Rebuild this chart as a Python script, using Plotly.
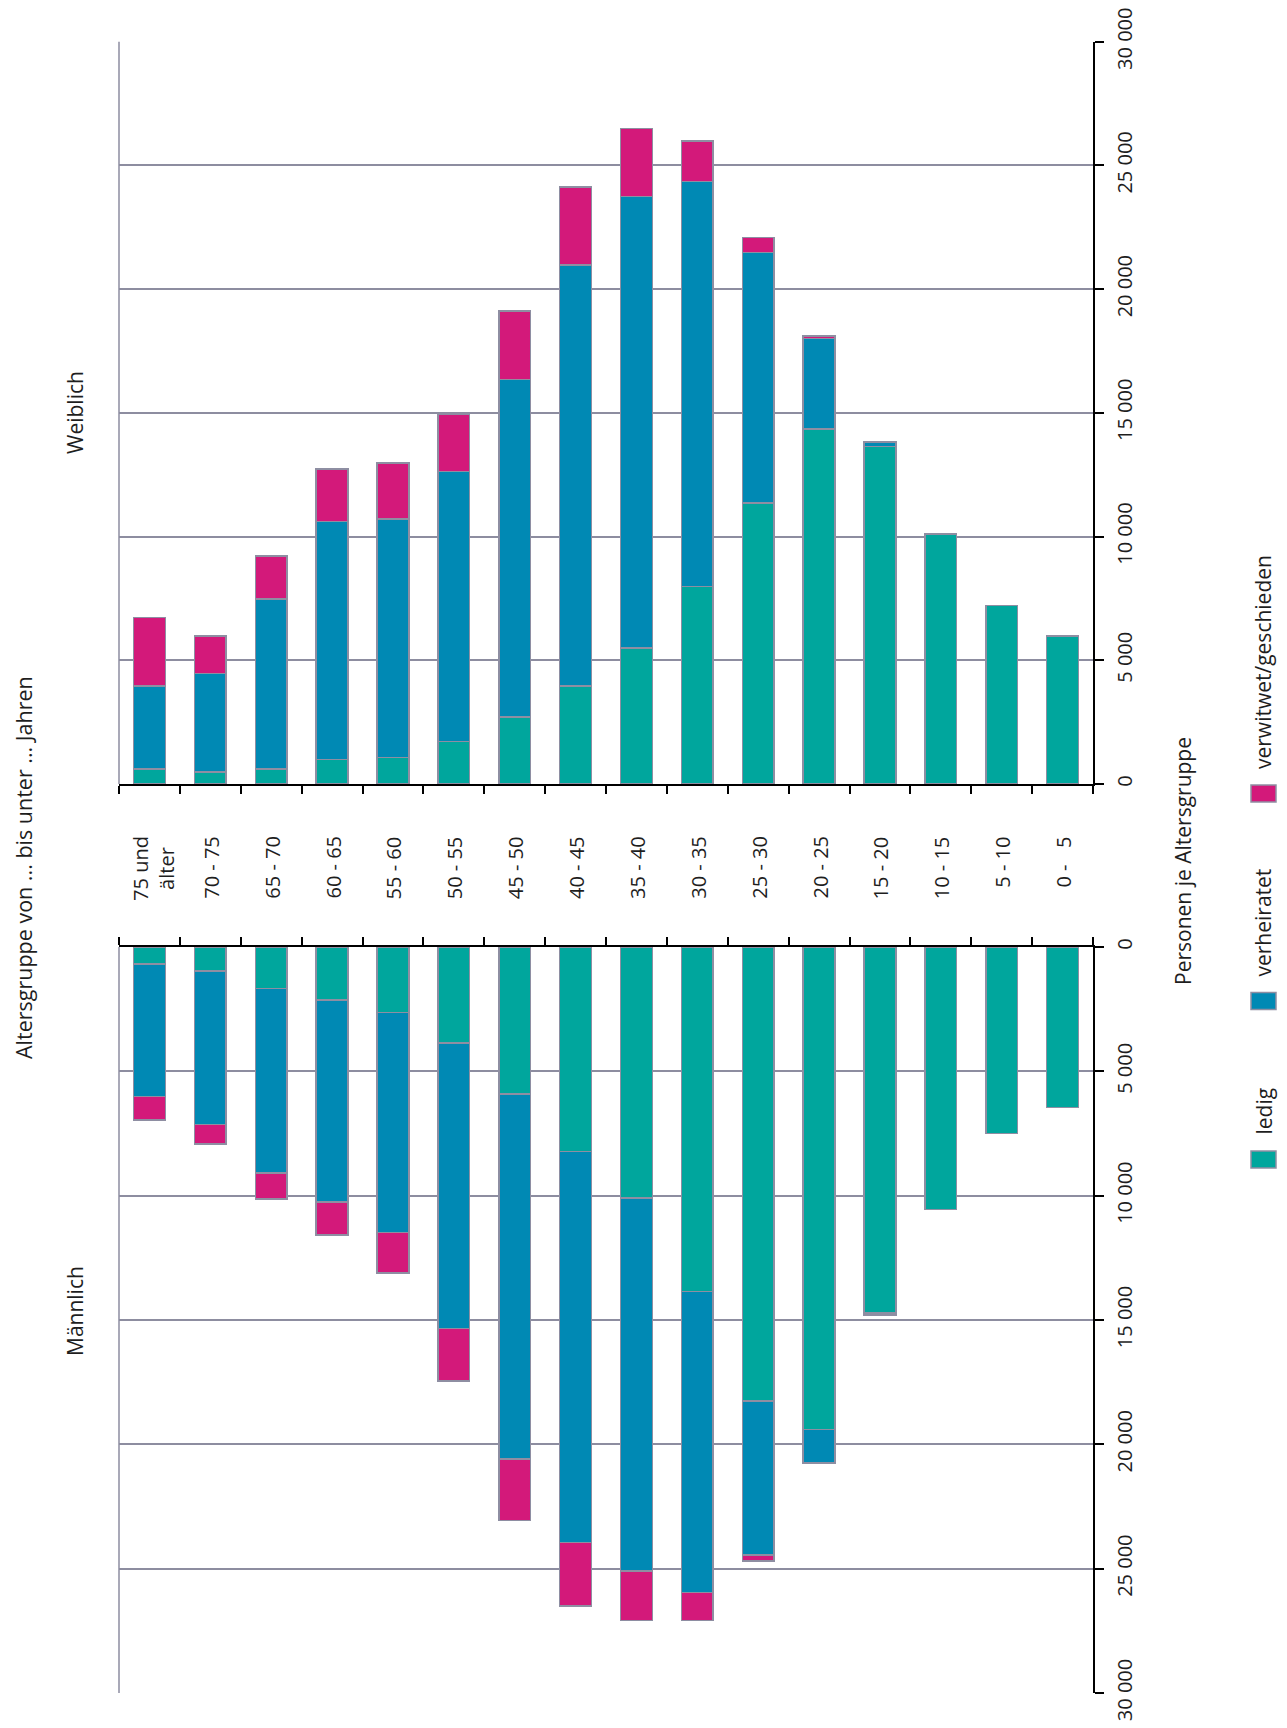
import plotly.graph_objects as go

# ---------------- data ----------------
categories = ["75 und<br>älter", "70 - 75", "65 - 70", "60 - 65", "55 - 60", "50 - 55",
              "45 - 50", "40 - 45", "35 - 40", "30 - 35", "25 - 30", "20 - 25",
              "15 - 20", "10 - 15", "\u20075 - 10", "\u20070 - \u20075"]

# Weiblich (female)
w_ledig = [600, 490, 600, 990, 1080, 1710, 2710, 3970, 5490, 7980, 11350, 14350, 13630, 10110, 7220, 5990]
w_verheiratet = [3370, 3970, 6870, 9620, 9640, 10910, 13640, 17010, 18250, 16370, 10130, 3650, 200, None, None, None]
w_verwitwet = [2750, 1530, 1750, 2120, 2260, 2340, 2770, 3140, 2760, 1640, 610, 110, None, None, None, None]

# Männlich (male)
m_ledig = [680, 970, 1660, 2140, 2630, 3870, 5920, 8220, 10090, 13850, 18260, 19410, 14700, 10560, 7490, 6450]
m_verheiratet = [5330, 6170, 7420, 8110, 8860, 11470, 14670, 15730, 15000, 12100, 6190, 1340, 60, None, None, None]
m_verwitwet = [950, 790, 1050, 1330, 1620, 2120, 2480, 2550, 2000, 1140, 250, None, 40, None, None, None]

series_names = ["ledig", "verheiratet", "verwitwet/geschieden"]
series_colors = ["#00A69D", "#0089B4", "#D3197A"]

value_ticks = [0, 5000, 10000, 15000, 20000, 25000, 30000]
value_tick_labels = ["0", "5 000", "10 000", "15 000", "20 000", "25 000", "30 000"]

# ---------------- layout helpers ----------------
W, H = 1287, 1728
OFF = 8  # page body margin
FONT = "Open Sans"
TXT = "#1e1e1e"
GRID = "#8D8DA0"
OUTLINE = "#8E8EA2"

def px(xp):
    return (xp - OFF) / W

def py(yp):
    return 1 - (yp - OFF) / H

x_dom = [px(119), px(1093)]
top_dom = [py(784), py(41.7)]
bot_dom = [py(1693), py(947)]

fig = go.Figure()

female = [w_ledig, w_verheiratet, w_verwitwet]
male = [m_ledig, m_verheiratet, m_verwitwet]
for vals, name, col in zip(female, series_names, series_colors):
    fig.add_trace(go.Bar(x=categories, y=vals, name=name, xaxis="x", yaxis="y",
                         marker=dict(color=col, line=dict(color=OUTLINE, width=1.5)),
                         width=0.52, showlegend=False))
for vals, name, col in zip(male, series_names, series_colors):
    fig.add_trace(go.Bar(x=categories, y=vals, name=name, xaxis="x2", yaxis="y2",
                         marker=dict(color=col, line=dict(color=OUTLINE, width=1.5)),
                         width=0.52, showlegend=False))

common_x = dict(type="category", categoryorder="array", categoryarray=categories,
                range=[-0.5, len(categories) - 0.5], showticklabels=False,
                ticks="outside", tickson="boundaries", ticklen=8, tickwidth=1.5,
                tickcolor="black", showline=True, linecolor="black", linewidth=2,
                showgrid=False, zeroline=False, fixedrange=True, automargin=False)
common_y = dict(side="right", showline=True, linecolor="black", linewidth=2,
                ticks="outside", ticklen=9, tickwidth=2, tickcolor="black",
                tickmode="array", tickvals=value_ticks, ticktext=value_tick_labels,
                tickangle=-90, tickfont=dict(family=FONT, size=20, color=TXT),
                ticklabeloverflow="allow", ticklabelstandoff=4,
                showgrid=True, gridcolor=GRID, gridwidth=1.5, zeroline=False,
                fixedrange=True, automargin=False)

fig.update_layout(
    width=W, height=H, margin=dict(l=0, r=0, t=0, b=0, pad=0, autoexpand=False),
    paper_bgcolor="white", plot_bgcolor="white",
    barmode="stack", bargap=0.48,
    font=dict(family=FONT, size=20, color=TXT),
    showlegend=False,
    xaxis=dict(domain=x_dom, anchor="y", side="bottom", **common_x),
    yaxis=dict(domain=top_dom, anchor="x", range=[0, 30000], **common_y),
    xaxis2=dict(domain=x_dom, anchor="y2", side="top", **common_x),
    yaxis2=dict(domain=bot_dom, anchor="x2", range=[30000, 0], **common_y),
)

shapes = []
# grey left frame lines
for dom in (top_dom, bot_dom):
    shapes.append(dict(type="line", xref="paper", yref="paper", x0=x_dom[0], x1=x_dom[0],
                       y0=dom[0], y1=dom[1], line=dict(color=GRID, width=1.5)))

annotations = []
# category labels between panels
for i, c in enumerate(categories):
    annotations.append(dict(x=c, xref="x", y=py(834), yref="paper", text=c,
                            textangle=-90, showarrow=False, yanchor="top", xanchor="center",
                            align="center", xshift=4 if "<br>" in c else 1,
                            font=dict(family=FONT, size=20, color=TXT)))

def rot_text(text, xp, yp, yanchor="middle", size=21):
    return dict(x=px(xp), y=py(yp), xref="paper", yref="paper", text=text, textangle=-90,
                showarrow=False, xanchor="center", yanchor=yanchor, borderpad=0,
                font=dict(family=FONT, size=size, color=TXT))

annotations.append(rot_text("Weiblich", 75, 413))
annotations.append(rot_text("Männlich", 75, 1311))
annotations.append(rot_text("Altersgruppe von ... bis unter ... Jahren", 24, 868, size=21.5))
annotations.append(rot_text("Personen je Altersgruppe", 1183, 861))

# custom rotated legend
legend_centers = [1159.5, 1001, 793.5]
for name, col, yc in zip(series_names, series_colors, legend_centers):
    shapes.append(dict(type="rect", xref="paper", yref="paper",
                       x0=px(1251), x1=px(1276), y0=py(yc + 8.5), y1=py(yc - 8.5),
                       fillcolor=col, line=dict(color=OUTLINE, width=1.5)))
    annotations.append(rot_text(name, 1263, yc - 8.5 - 15, yanchor="bottom"))

fig.update_layout(shapes=shapes, annotations=annotations)

fig.write_html("out.html")
